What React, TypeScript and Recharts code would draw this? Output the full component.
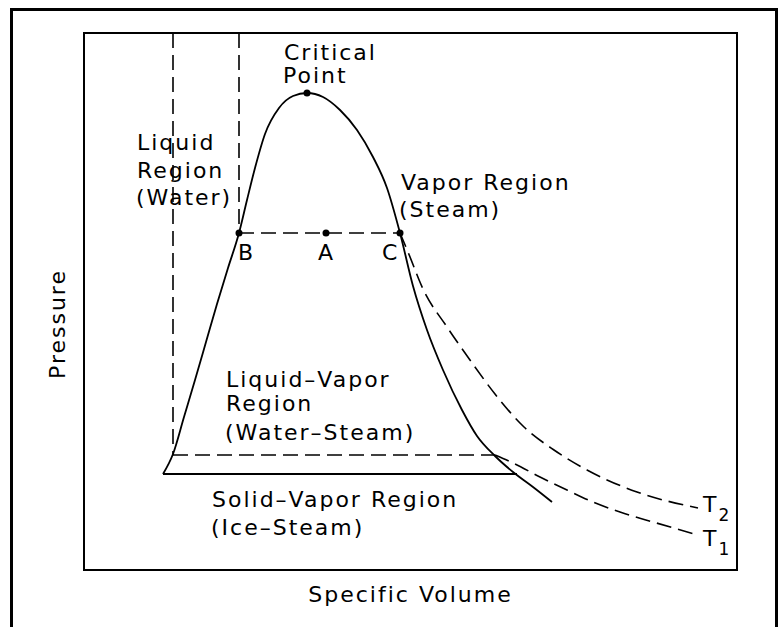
import { ComposedChart, Line, Scatter, XAxis, YAxis, ReferenceArea, Label } from 'recharts';

// plot units: v = specific volume (0..653), p = pressure (0..537)
const domeCurve = [
  { v: 79, p: 96 }, { v: 89, p: 116 }, { v: 100, p: 153 }, { v: 111, p: 190 },
  { v: 122, p: 228 }, { v: 133, p: 266 }, { v: 144, p: 302 }, { v: 155, p: 337 },
  { v: 163, p: 370 }, { v: 171, p: 402 }, { v: 181, p: 436 }, { v: 195, p: 462 },
  { v: 209, p: 474 }, { v: 223, p: 477 }, { v: 239, p: 473 }, { v: 256, p: 460 },
  { v: 273, p: 440 }, { v: 289, p: 413 }, { v: 303, p: 382 }, { v: 316, p: 337 },
  { v: 329, p: 284 }, { v: 343, p: 240 }, { v: 359, p: 200 }, { v: 378, p: 160 },
  { v: 393, p: 134 }, { v: 411, p: 114 }, { v: 429, p: 98 }, { v: 449, p: 83 },
  { v: 468, p: 68 },
];

const isothermT2 = [
  { v: 316, p: 337 }, { v: 324, p: 318 }, { v: 339, p: 281 }, { v: 363, p: 243 },
  { v: 386, p: 210 }, { v: 411, p: 176 }, { v: 440, p: 143 }, { v: 470, p: 120 },
  { v: 503, p: 100 }, { v: 553, p: 78 }, { v: 614, p: 62 },
];

const isothermT1 = [
  { v: 411, p: 115 }, { v: 429, p: 107 }, { v: 456, p: 93 }, { v: 483, p: 80 },
  { v: 509, p: 68 }, { v: 536, p: 58 }, { v: 569, p: 48 }, { v: 614, p: 35 },
];

const lineBC = [{ v: 155, p: 337 }, { v: 316, p: 337 }];
const lineT1Flat = [{ v: 89, p: 115 }, { v: 411, p: 115 }];
const triplePointLine = [{ v: 79, p: 96 }, { v: 433, p: 96 }];
const liquidEdgeLow = [{ v: 89, p: 537 }, { v: 89, p: 115 }];
const liquidEdgeHigh = [{ v: 155, p: 537 }, { v: 155, p: 337 }];

const statePoints = [
  { v: 223, p: 477 }, // critical point
  { v: 155, p: 337 }, // B
  { v: 242, p: 337 }, // A
  { v: 316, p: 337 }, // C
];

const regionLabels = [
  { v: 200, p: 510, text: 'Critical' },
  { v: 199, p: 487, text: 'Point' },
  { v: 53, p: 420, text: 'Liquid' },
  { v: 53, p: 392, text: 'Region' },
  { v: 52, p: 365, text: '(Water)' },
  { v: 317, p: 380, text: 'Vapor Region' },
  { v: 315, p: 353, text: '(Steam)' },
  { v: 154, p: 310, text: 'B' },
  { v: 234, p: 310, text: 'A' },
  { v: 298, p: 310, text: 'C' },
  { v: 142, p: 183, text: 'Liquid–Vapor' },
  { v: 142, p: 159, text: 'Region' },
  { v: 141, p: 130, text: '(Water–Steam)' },
  { v: 128, p: 63, text: 'Solid–Vapor Region' },
  { v: 127, p: 35, text: '(Ice–Steam)' },
  { v: 619, p: 58, text: 'T', sub: '2' },
  { v: 619, p: 24, text: 'T', sub: '1' },
];

const FONT = '"DejaVu Sans", "Liberation Sans", sans-serif';

function TextShape(props: any) {
  const { cx, cy, payload } = props;
  return (
    <text x={cx} y={cy} fontFamily={FONT} fontSize={22} letterSpacing={2} fill="#000">
      {payload.text}
      {payload.sub ? <tspan dy={9} fontSize={17}>{payload.sub}</tspan> : null}
    </text>
  );
}

function DotShape(props: any) {
  return <circle cx={props.cx} cy={props.cy} r={3.5} fill="#000" />;
}

function XTitle(props: any) {
  const vb = props.viewBox || { x: 84, y: 570, width: 653, height: 57 };
  return (
    <text x={vb.x + vb.width / 2} y={vb.y + 32} textAnchor="middle" fontFamily={FONT} fontSize={22} letterSpacing={2} fill="#000">
      Specific Volume
    </text>
  );
}

function YTitle(props: any) {
  const vb = props.viewBox || { x: 0, y: 33, width: 84, height: 537 };
  const x = vb.x + 65;
  const y = vb.y + 291;
  return (
    <text x={x} y={y} transform={`rotate(-90, ${x}, ${y})`} textAnchor="middle" fontFamily={FONT} fontSize={22} letterSpacing={2} fill="#000">
      Pressure
    </text>
  );
}

const dashed = { stroke: '#000', strokeWidth: 1.6, strokeDasharray: '15 7', dot: false, activeDot: false, isAnimationActive: false, type: 'linear' as const, dataKey: 'p' };

export default function App() {
  return (
    <div style={{ position: 'absolute', left: 0, top: 0, width: 779, height: 627, overflow: 'hidden', background: '#fff' }}>
      <div style={{ position: 'absolute', left: 10, top: 8, width: 768, height: 700, border: '3px solid #000', borderBottom: 'none', boxSizing: 'border-box' }} />
      <div style={{ position: 'absolute', left: 0, top: 0 }}>
        <ComposedChart width={779} height={627} margin={{ top: 33, right: 42, bottom: 0, left: 0 }}>
          <XAxis type="number" dataKey="v" domain={[0, 653]} allowDataOverflow tick={false} tickLine={false} axisLine={false} height={57}>
            <Label content={XTitle} />
          </XAxis>
          <YAxis type="number" dataKey="p" domain={[0, 537]} allowDataOverflow tick={false} tickLine={false} axisLine={false} width={84}>
            <Label content={YTitle} />
          </YAxis>
          <ReferenceArea x1={0} x2={653} y1={0} y2={537} stroke="#000" strokeWidth={2} fill="none" fillOpacity={0} ifOverflow="visible" />
          <Line data={domeCurve} dataKey="p" type="monotone" stroke="#000" strokeWidth={1.8} dot={false} activeDot={false} isAnimationActive={false} />
          <Line data={triplePointLine} dataKey="p" type="linear" stroke="#000" strokeWidth={1.8} dot={false} activeDot={false} isAnimationActive={false} />
          <Line data={isothermT2} {...dashed} type="monotone" />
          <Line data={isothermT1} {...dashed} type="monotone" />
          <Line data={lineBC} {...dashed} />
          <Line data={lineT1Flat} {...dashed} />
          <Line data={liquidEdgeLow} {...dashed} />
          <Line data={liquidEdgeHigh} {...dashed} />
          <Scatter data={statePoints} dataKey="p" shape={DotShape} isAnimationActive={false} />
          <Scatter data={regionLabels} dataKey="p" shape={TextShape} isAnimationActive={false} />
        </ComposedChart>
      </div>
    </div>
  );
}
